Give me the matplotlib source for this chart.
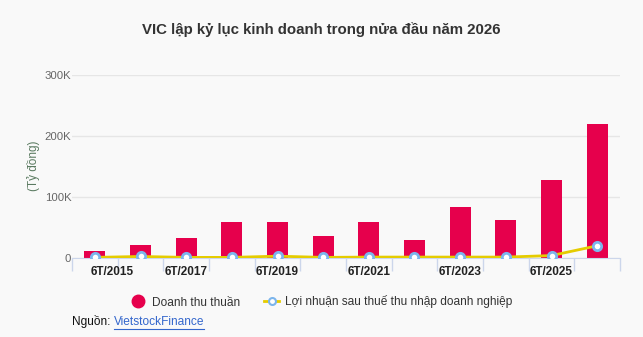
import numpy as np
import matplotlib.pyplot as plt
from matplotlib.lines import Line2D
from matplotlib.ticker import FuncFormatter
from matplotlib.transforms import ScaledTranslation

plt.rcParams['font.family'] = ['Liberation Sans', 'DejaVu Sans']

# data (ty dong)
periods = ["6T/2015", "6T/2016", "6T/2017", "6T/2018", "6T/2019", "6T/2020",
           "6T/2021", "6T/2022", "6T/2023", "6T/2024", "6T/2025", "6T/2026"]
revenue = [11000, 22000, 33000, 59000, 59000, 36000,
           59000, 29500, 84000, 62000, 128000, 220000]
profit = [1000, 2500, 1000, 1000, 3000, 1000,
          1500, 1500, 1500, 1500, 4000, 20000]
shown_labels = ["6T/2015", "6T/2017", "6T/2019", "6T/2021", "6T/2023", "6T/2025"]

title = "VIC lập kỷ lục kinh doanh trong nửa đầu năm 2026"
bar_color = "#E6004C"
line_color = "#E5CC00"
marker_edge = "#7CB5EC"
bg = "#F9F9F9"

W, H = 643, 337
fig = plt.figure(figsize=(W / 100, H / 100), dpi=100, facecolor=bg)
ax = fig.add_axes([72 / W, 79 / H, 548 / W, 183.3 / H], facecolor=bg)

x = np.arange(len(periods))
ax.bar(x, revenue, width=0.46, color=bar_color, zorder=2)
ax.plot(x, profit, color=line_color, lw=2, zorder=3,
        marker='o', markersize=6, markerfacecolor='white',
        markeredgecolor=marker_edge, markeredgewidth=2)

ax.set_xlim(-0.5, len(periods) - 0.5)
ax.set_ylim(0, 300000)
ax.set_yticks([0, 100000, 200000, 300000])
ax.yaxis.set_major_formatter(FuncFormatter(lambda v, p: "0" if v == 0 else f"{int(v / 1000)}K"))
ax.grid(axis='y', color='#E6E6E6', lw=1, zorder=0)
ax.tick_params(axis='y', length=0, labelsize=8.2, labelcolor='#666666', pad=0.5)

# category boundary ticks
ax.set_xticks(np.arange(len(periods) + 1) - 0.5)
ax.set_xticklabels([])
ax.tick_params(axis='x', length=9, color='#CCD6EB', width=1)
ax.set_xticks([periods.index(p) for p in shown_labels], minor=True)
ax.set_xticklabels(shown_labels, minor=True)
ax.tick_params(axis='x', which='minor', length=0, labelsize=8.5, labelcolor='#222222', pad=6)
for lbl in ax.get_xticklabels(minor=True):
    lbl.set_fontweight('bold')
# first label pushed right like in the source
first = ax.get_xticklabels(minor=True)[0]
first.set_transform(first.get_transform() + ScaledTranslation(0.17, 0, fig.dpi_scale_trans))

for s in ['top', 'right', 'left']:
    ax.spines[s].set_visible(False)
ax.spines['bottom'].set_color('#CCD6EB')

# y axis title
fig.text(33 / W, 1 - 166 / H, "(Tỷ đồng)", rotation=90, ha='center', va='center',
         fontsize=8.5, color='#5A7A60')

fig.text(0.5, 1 - 30 / H, title, ha='center', va='center',
         fontsize=10.8, fontweight='bold', color='#333333')

handles = [
    Line2D([], [], ls='none', marker='o', markersize=9, color=bar_color),
    Line2D([], [], color=line_color, lw=2, marker='o', markersize=5,
           markerfacecolor='white', markeredgecolor=marker_edge, markeredgewidth=1.5),
]
fig.legend(handles, ["Doanh thu thuần", "Lợi nhuận sau thuế thu nhập doanh nghiệp"],
           loc='center', bbox_to_anchor=(0.5, 1 - 302 / H), ncol=2, frameon=False,
           fontsize=8.6, labelcolor='#333333', handlelength=1.3, columnspacing=2.0,
           handletextpad=0.5)

src = fig.text(72 / W, 1 - 322 / H, "Nguồn: ", fontsize=8.6, color='#111111', va='center')
fig.canvas.draw()
bb = src.get_window_extent()
link = fig.text(bb.x1 / W, 1 - 322 / H, "VietstockFinance", fontsize=8.6,
                color='#3366CC', va='center')
fig.canvas.draw()
lb = link.get_window_extent()
fig.add_artist(Line2D([lb.x0 / W, lb.x1 / W], [(lb.y0 - 1) / H] * 2, color='#3366CC', lw=0.8))

fig.savefig("out.png", dpi=100, facecolor=bg)
